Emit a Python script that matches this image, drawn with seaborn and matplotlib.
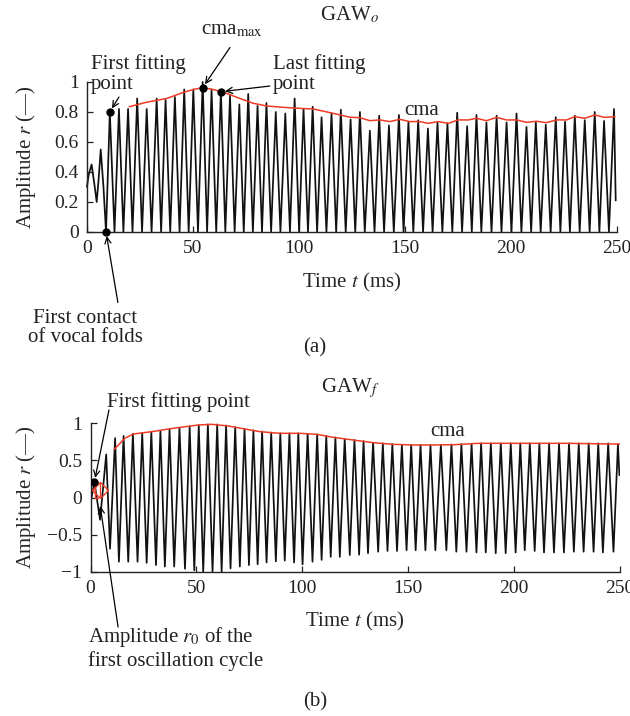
import pandas as pd
import matplotlib
matplotlib.use("Agg")
import matplotlib.pyplot as plt
import seaborn as sns

# ---------------- data ----------------
# (a) GAW_o : irregular onset, then one peak per glottal cycle (closed phase at 0)
gawo_onset_t = [0.0, 0.8, 2.2, 3.5, 4.6, 5.5, 6.5, 7.8, 9.0]
gawo_onset_r = [0.30, 0.38, 0.45, 0.32, 0.20, 0.35, 0.55, 0.30, 0.0]
gawo_peak_t = [10.8, 15.1, 19.4, 23.7, 28.2, 32.9, 37.1, 41.5, 45.9, 50.2,
               54.6, 58.8, 63.2, 67.5, 71.9, 76.1, 80.5, 84.7, 89.1, 93.6,
               98.0, 102.2, 106.5, 110.7, 115.4, 119.8, 124.4, 128.8, 133.5, 137.9,
               142.5, 147.2, 151.7, 156.3, 160.9, 165.4, 170.1, 174.7, 179.4, 183.8,
               188.5, 193.3, 198.0, 202.7, 207.4, 211.8, 216.5, 221.2, 225.6, 230.2,
               234.9, 239.6, 244.0, 248.7]
gawo_peak_r = [0.80, 0.82, 0.82, 0.89, 0.82, 0.89, 0.88, 0.90, 0.95, 0.95,
               1.00, 0.95, 0.94, 0.91, 0.85, 0.92, 0.84, 0.86, 0.80, 0.79,
               0.89, 0.82, 0.835, 0.765, 0.79, 0.815, 0.75, 0.80, 0.675, 0.775,
               0.71, 0.78, 0.735, 0.745, 0.69, 0.73, 0.725, 0.795, 0.705, 0.78,
               0.73, 0.775, 0.73, 0.79, 0.70, 0.735, 0.715, 0.765, 0.735, 0.775,
               0.745, 0.80, 0.74, 0.82]
gawo_closed_t = [13.0, 17.2, 21.5, 26.0, 30.5, 35.0, 39.3, 43.7, 48.0, 52.4,
                 56.7, 61.0, 65.3, 69.7, 74.0, 78.3, 82.6, 86.9, 91.3, 95.8,
                 100.1, 104.3, 108.6, 113.0, 117.6, 122.1, 126.6, 131.1, 135.7, 140.2,
                 144.8, 149.4, 154.0, 158.6, 163.1, 167.7, 172.4, 177.0, 181.6, 186.1,
                 190.9, 195.6, 200.3, 205.0, 209.6, 214.1, 218.8, 223.4, 227.9, 232.5,
                 237.2, 241.8, 246.3]
gawo_end_t, gawo_end_r = 249.5, 0.21

cmao_t = [20.0, 28.1, 37.6, 45.4, 50.2, 54.6, 59.6, 65.9, 72.2, 78.5, 84.8,
          92.6, 100.5, 106.8, 116.2, 124.1, 128.8, 133.5, 138.2, 142.9, 147.6,
          152.3, 157.1, 161.0, 165.7, 170.5, 175.1, 179.9, 183.8, 188.5, 193.3,
          198.0, 202.7, 207.4, 212.1, 216.8, 221.6, 226.3, 230.2, 234.9, 239.6,
          244.3, 249.1]
cmao_r = [0.835, 0.865, 0.89, 0.93, 0.95, 0.962, 0.95, 0.924, 0.89, 0.858, 0.84,
          0.831, 0.824, 0.82, 0.791, 0.765, 0.762, 0.742, 0.747, 0.736, 0.751,
          0.736, 0.736, 0.724, 0.736, 0.724, 0.747, 0.747, 0.758, 0.742, 0.764,
          0.747, 0.747, 0.731, 0.738, 0.729, 0.747, 0.747, 0.769, 0.758, 0.78,
          0.764, 0.769]

first_contact = (9.0, 0.0)
first_fit_o = (10.8, 0.80)
cma_max = (54.6, 0.962)
last_fit_o = (63.2, 0.935)

# (b) GAW_f : onset, then positive peaks and negative troughs
gawf_onset_t = [0.5, 1.8, 4.5, 7.4, 9.2]
gawf_onset_r = [0.0, 0.21, -0.30, 0.58, -0.69]
gawf_peak_t = [11.6, 15.6, 20.0, 24.4, 28.7, 33.0, 37.3, 42.0, 46.8, 51.1,
               55.4, 59.8, 64.0, 68.3, 72.7, 76.9, 81.0, 85.3, 89.6, 93.9,
               98.1, 102.5, 107.0, 111.3, 115.6, 120.0, 124.6, 128.9, 133.4, 138.0,
               142.5, 147.0, 151.4, 155.8, 160.5, 165.4, 170.4, 175.1, 179.9, 184.4,
               189.0, 193.7, 198.4, 202.9, 207.4, 211.9, 216.5, 221.2, 225.9, 230.5,
               235.2, 239.7, 244.4, 249.0]
gawf_peak_r = [0.80, 0.83, 0.86, 0.87, 0.885, 0.90, 0.92, 0.94, 0.96, 0.975,
               0.985, 0.985, 0.97, 0.95, 0.925, 0.905, 0.89, 0.875, 0.865, 0.865,
               0.865, 0.86, 0.85, 0.83, 0.81, 0.79, 0.775, 0.76, 0.74, 0.73,
               0.72, 0.71, 0.71, 0.71, 0.705, 0.71, 0.715, 0.72, 0.725, 0.73,
               0.73, 0.73, 0.73, 0.73, 0.73, 0.73, 0.73, 0.73, 0.73, 0.73,
               0.73, 0.73, 0.73, 0.72]
gawf_trough_t = [13.4, 17.8, 22.2, 26.5, 30.9, 35.1, 39.5, 44.6, 49.0, 53.2,
                 57.6, 61.9, 66.1, 70.5, 74.8, 78.9, 83.1, 87.5, 91.7, 96.1,
                 100.1, 104.8, 109.1, 113.4, 117.7, 122.4, 126.8, 131.0, 135.8, 140.2,
                 144.7, 149.2, 153.5, 158.1, 162.8, 168.0, 172.7, 177.5, 182.2, 186.6,
                 191.3, 196.0, 200.7, 205.0, 209.7, 214.1, 218.8, 223.5, 228.2, 232.8,
                 237.5, 241.9, 246.9]
gawf_trough_r = [-0.865, -0.865, -0.865, -0.88, -0.91, -0.93, -0.93, -0.96, -0.98, -1.00,
                 -1.00, -1.00, -0.955, -0.93, -0.91, -0.90, -0.875, -0.86, -0.85, -0.875,
                 -0.90, -0.865, -0.84, -0.80, -0.80, -0.775, -0.77, -0.75, -0.73, -0.72,
                 -0.72, -0.71, -0.71, -0.71, -0.71, -0.71, -0.73, -0.73, -0.74, -0.74,
                 -0.75, -0.75, -0.74, -0.71, -0.72, -0.74, -0.74, -0.74, -0.73, -0.73,
                 -0.73, -0.74, -0.73]
gawf_end_t, gawf_end_r = 249.7, 0.30

cmaf_t = [11.2, 16.3, 20.2, 28.9, 38.3, 50.9, 57.2, 65.0, 72.9, 80.0, 89.4,
          98.8, 106.7, 114.5, 124.0, 133.4, 142.8, 152.3, 161.7, 171.9, 182.9,
          201.8, 225.0, 249.8]
cmaf_r = [0.65, 0.80, 0.856, 0.887, 0.93, 0.977, 0.986, 0.964, 0.923, 0.887, 0.865,
          0.865, 0.852, 0.811, 0.775, 0.739, 0.717, 0.708, 0.708, 0.712, 0.73,
          0.73, 0.73, 0.72]

first_fit_f = (1.8, 0.21)
r0_t, r0_top, r0_bot = 2.1, 0.21, 0.0
r0_marker_t = 4.3

xticks = [0, 50, 100, 150, 200, 250]
yticks_a = [0, 0.2, 0.4, 0.6, 0.8, 1]
yticks_a_lab = ["0", "0.2", "0.4", "0.6", "0.8", "1"]
yticks_b = [-1, -0.5, 0, 0.5, 1]
yticks_b_lab = ["\u22121", "\u22120.5", "0", "0.5", "1"]

RED = "#ee3b24"
FS = 15
TFS = 14

# ---------------- build traces ----------------
a_pts = list(zip(gawo_onset_t, gawo_onset_r))
a_pts += list(zip(gawo_peak_t, gawo_peak_r))
a_pts += [(t, 0.0) for t in gawo_closed_t]
a_pts += [(gawo_end_t, gawo_end_r)]
df_a = pd.DataFrame(sorted(a_pts), columns=["t", "r"])

b_pts = list(zip(gawf_onset_t, gawf_onset_r))
b_pts += list(zip(gawf_peak_t, gawf_peak_r))
b_pts += list(zip(gawf_trough_t, gawf_trough_r))
b_pts += [(gawf_end_t, gawf_end_r)]
df_b = pd.DataFrame(sorted(b_pts), columns=["t", "r"])

# ---------------- style ----------------
sns.set_style("ticks")
plt.rcParams["font.family"] = ["Liberation Serif", "DejaVu Serif"]
plt.rcParams["mathtext.fontset"] = "stix"
plt.rcParams["font.size"] = FS
plt.rcParams["text.color"] = "#222222"

fig = plt.figure(figsize=(6.3, 7.16), dpi=100)
ax1 = fig.add_axes([0.138, 0.676, 0.841, 0.2095])
ax2 = fig.add_axes([0.1437, 0.2015, 0.8405, 0.2073])

arrow = dict(arrowstyle="->", color="k", lw=0.9, shrinkA=0, shrinkB=3,
             mutation_scale=11)

for ax in (ax1, ax2):
    ax.set_xlim(0, 250)
    ax.set_xticks(xticks)
    ax.tick_params(direction="in", length=4, width=0.9, pad=6, labelsize=TFS,
                   colors="#222222")
    for s in ("left", "bottom"):
        ax.spines[s].set_linewidth(1.0)
        ax.spines[s].set_color("#222222")
    sns.despine(ax=ax)

# ---- (a) ----
sns.lineplot(data=df_a, x="t", y="r", ax=ax1, color="#111111", lw=1.25,
             estimator=None, sort=False, clip_on=False)
sns.lineplot(x=cmao_t, y=cmao_r, ax=ax1, color=RED, lw=1.1, estimator=None)
dots_a = pd.DataFrame([first_contact, first_fit_o, cma_max, last_fit_o],
                      columns=["t", "r"])
ax1.plot(dots_a["t"], dots_a["r"], "o", color="k", ms=5, zorder=6, clip_on=False)
ax1.set_ylim(0, 1)
ax1.set_yticks(yticks_a)
ax1.set_yticklabels(yticks_a_lab)
ax1.set_xlabel("Time $t$ (ms)", fontsize=FS)
ax1.set_ylabel("Amplitude $r$ (\u2014)", fontsize=FS)
ax1.xaxis.set_label_coords(0.5, -0.26)
ax1.yaxis.set_label_coords(-0.093, 0.5)

ax1.text(1.9, 1.053, "First fitting\npoint", ha="left", va="center",
         fontsize=FS, linespacing=1.1)
ax1.annotate("", xy=first_fit_o, xytext=(15.1, 0.90), arrowprops=arrow,
             annotation_clip=False)
ax1.text(68.4, 1.35, "cma$_{\\mathrm{max}}$", ha="center", va="center", fontsize=FS)
ax1.annotate("", xy=cma_max, xytext=(67.5, 1.23), arrowprops=arrow,
             annotation_clip=False)
ax1.text(87.6, 1.053, "Last fitting\npoint", ha="left", va="center",
         fontsize=FS, linespacing=1.1)
ax1.annotate("", xy=last_fit_o, xytext=(86.3, 0.973), arrowprops=arrow,
             annotation_clip=False)
ax1.text(158, 0.813, "cma", ha="center", va="center", fontsize=FS)
ax1.text(-0.9, -0.64, "First contact\nof vocal folds", ha="center", va="center",
         fontsize=FS, linespacing=1.0)
ax1.annotate("", xy=first_contact, xytext=(14.6, -0.47), arrowprops=arrow,
             annotation_clip=False)

# ---- (b) ----
sns.lineplot(data=df_b, x="t", y="r", ax=ax2, color="#111111", lw=1.25,
             estimator=None, sort=False)
sns.lineplot(x=cmaf_t, y=cmaf_r, ax=ax2, color=RED, lw=1.1, estimator=None)
ax2.plot([first_fit_f[0]], [first_fit_f[1]], "o", color="k", ms=5, zorder=6)
r0_mid = (r0_top + r0_bot) / 2
ax2.plot([r0_t + 1.2, r0_t, r0_t, r0_t + 1.2], [r0_top, r0_top, r0_bot, r0_bot],
         color=RED, lw=1.0, zorder=5)
ax2.plot([r0_marker_t], [r0_mid], "D", mfc="none", mec=RED, mew=1.0, ms=8, zorder=5)
ax2.plot([r0_marker_t], [r0_mid], "|", color=RED, mew=1.0, ms=10, zorder=5)
ax2.set_ylim(-1, 1)
ax2.set_yticks(yticks_b)
ax2.set_yticklabels(yticks_b_lab)
ax2.set_xlabel("Time $t$ (ms)", fontsize=FS)
ax2.set_ylabel("Amplitude $r$ (\u2014)", fontsize=FS)
ax2.xaxis.set_label_coords(0.5, -0.26)
ax2.yaxis.set_label_coords(-0.1, 0.5)

ax2.text(7.8, 1.287, "First fitting point", ha="left", va="center", fontsize=FS)
ax2.annotate("", xy=first_fit_f, xytext=(8.7, 1.18), arrowprops=arrow,
             annotation_clip=False)
ax2.text(168.4, 0.883, "cma", ha="center", va="center", fontsize=FS)
ax2.text(-1.2, -2.03, "Amplitude $r_0$ of the\nfirst oscillation cycle",
         ha="left", va="center", fontsize=FS, linespacing=1.1)
ax2.annotate("", xy=(r0_marker_t, r0_bot - 0.06), xytext=(13.0, -1.745),
             arrowprops=arrow, annotation_clip=False)

# titles and panel letters
fig.text(350 / 630, 1 - 15 / 716, "GAW$_o$", ha="center", va="center", fontsize=FS)
fig.text(315 / 630, 1 - 348 / 716, "(a)", ha="center", va="center", fontsize=FS)
fig.text(350 / 630, 1 - 388 / 716, "GAW$_f$", ha="center", va="center", fontsize=FS)
fig.text(315 / 630, 1 - 702 / 716, "(b)", ha="center", va="center", fontsize=FS)

fig.savefig("out.png", dpi=100)
